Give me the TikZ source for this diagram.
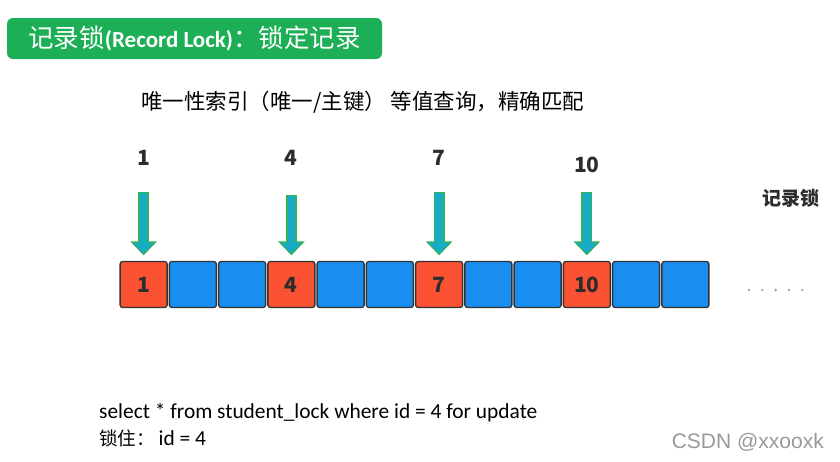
\documentclass[tikz,border=0pt]{standalone}
\usepackage{fontspec}
\setmainfont{Carlito}
\newfontfamily\cjk{Noto Sans CJK SC}
\newfontfamily\marca{Liberation Sans}
\usetikzlibrary{arrows.meta, calc, positioning}

\definecolor{verdeTitulo}{RGB}{28,175,86}
\definecolor{vermelho}{RGB}{250,82,50}
\definecolor{azul}{RGB}{26,142,240}
\definecolor{contorno}{RGB}{50,50,50}
\definecolor{texto}{RGB}{45,45,45}
\definecolor{setaVerde}{RGB}{52,176,88}
\definecolor{setaAzul}{RGB}{22,172,200}

\begin{document}
\begin{tikzpicture}[
    x=1pt, y=-1pt,
    caixa/.style={draw=contorno, line width=1.3pt, rounded corners=2.5pt,
        minimum width=47pt, minimum height=46pt, inner sep=0pt,
        font=\cjk\bfseries\fontsize{21}{21}\selectfont, text=texto},
    rotulo/.style={font=\cjk\bfseries\fontsize{21}{21}\selectfont, text=texto, inner sep=0pt},
    setaBorda/.style={draw=setaVerde, line width=11pt,
        -{Triangle[length=14pt, width=26pt]}, shorten >=5.5pt},
    setaMiolo/.style={draw=setaAzul, line width=7.5pt,
        -{Triangle[length=10.5pt, width=20pt]}, shorten >=7.5pt, shorten <=1.3pt}
]

    \useasboundingbox (0,0) rectangle (840,461);

    % 1. Faixa verde do titulo
    \node[fill=verdeTitulo, rounded corners=6pt, minimum width=375pt, minimum height=41pt,
          text=white, inner sep=0pt, font=\fontsize{23}{23}\selectfont] (T) at (194.5,38.5)
          {{\cjk\fontsize{25.5}{25.5}\selectfont 记录锁}\textbf{(Record Lock)}{\cjk\fontsize{25.5}{25.5}\selectfont ：锁定记录}};

    % 2. Subtitulo
    \node[anchor=west, inner sep=0pt, font=\cjk\fontsize{21.5}{21.5}\selectfont] (S) at (141,102)
          {唯一性索引（唯一/主键） 等值查询，精确匹配};

    % 3. Linha de registros (12 caixas)
    \foreach \i in {2,3,5,6,8,9,11,12}
        \node[caixa, fill=azul] (C\i) at ({119+49.25*(\i-0.5)},284.5) {};
    \foreach \i in {1,4,7,10}
        \node[caixa, fill=vermelho] (C\i) at ({119+49.25*(\i-0.5)},284.5) {\i};

    % 4. Rotulos acima das setas
    \node[rotulo] (R1) at (C1 |- 0,158) {1};
    \node[rotulo] (R4) at (C4 |- 0,158) {4};
    \node[rotulo] (R7) at (C7 |- 0,158) {7};
    \node[rotulo] (R10) at (C10 |- 0,165) {10};

    % 5. Setas verdes apontando para os registros travados
    \coordinate (P1) at (C1 |- 0,192);
    \coordinate (P4) at (C4 |- 0,195);
    \coordinate (P7) at (C7 |- 0,192);
    \coordinate (P10) at (C10 |- 0,192);
    \foreach \i in {1,4,7,10} {
        \draw[setaBorda] (P\i) -- (C\i.north);
        \draw[setaMiolo] (P\i) -- (C\i.north);
    }

    % 6. Reticencias e legenda da direita
    \foreach \k in {0,...,4}
        \fill[gray!70] (749+13.3*\k,290) circle (1.4pt);
    \node[rotulo, font=\cjk\bfseries\fontsize{19}{19}\selectfont] (L) at (791,198) {记录锁};

    % 7. Consulta SQL e resultado
    \node[anchor=west, inner sep=0pt, font=\fontsize{21.4}{21.4}\selectfont] (Q) at (99,413)
          {select * from student\_lock where id = 4 for update};
    \node[anchor=west, inner sep=0pt, font=\fontsize{21.4}{21.4}\selectfont] (Z) at (99,438)
          {{\cjk\fontsize{18.5}{18.5}\selectfont 锁住：}\hspace{4pt}id = 4};

    % 8. Marca d'agua
    \node[anchor=east, inner sep=0pt, text=gray!80, font=\marca\fontsize{21}{21}\selectfont] (W) at (824,442)
          {CSDN @xxooxk};

\end{tikzpicture}
\end{document}
